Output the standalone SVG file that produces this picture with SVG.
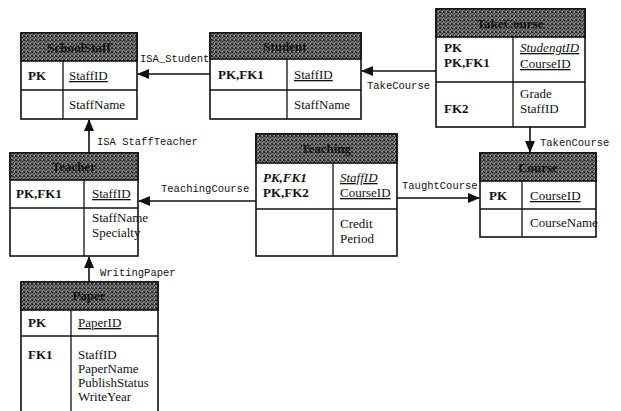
<svg xmlns="http://www.w3.org/2000/svg" width="621" height="411" viewBox="0 0 621 411">
<style>
.box{fill:#fff;stroke:#111;stroke-width:1.6}
.ln{stroke:#111;stroke-width:1.3;fill:none}
.hd{fill:url(#noise);stroke:#111;stroke-width:1.6}
.ht{font-family:"Liberation Serif",serif;font-size:13px;font-weight:bold;fill:#111;text-anchor:middle}
.t{font-family:"Liberation Serif",serif;font-size:13px;fill:#111}
.k{font-family:"Liberation Serif",serif;font-size:13px;font-weight:bold;fill:#111}
.u{text-decoration:underline}
.i{font-style:italic}
.lbl{font-family:"Liberation Mono",monospace;font-size:10.5px;fill:#111}
.c{stroke:#111;stroke-width:1.6;fill:none;marker-end:url(#ah)}
</style>
<defs>
<pattern id="noise" width="4" height="4" patternUnits="userSpaceOnUse">
<rect width="4" height="4" fill="#7a7a7a"/>
<rect x="0" y="0" width="1" height="1" fill="#1a1a1a"/>
<rect x="2" y="1" width="1" height="1" fill="#1a1a1a"/>
<rect x="1" y="2" width="1" height="1" fill="#2a2a2a"/>
<rect x="3" y="3" width="1" height="1" fill="#1a1a1a"/>
<rect x="3" y="0" width="1" height="1" fill="#333"/>
<rect x="0" y="3" width="1" height="1" fill="#3a3a3a"/>
<rect x="1" y="0" width="1" height="1" fill="#555"/>
<rect x="2" y="3" width="1" height="1" fill="#aaa"/>
</pattern>
<marker id="ah" markerWidth="12" markerHeight="10" refX="11" refY="5" orient="auto" markerUnits="userSpaceOnUse">
<path d="M0,0 L12,5 L0,10 Z" fill="#111"/>
</marker>
</defs>

<g id="connectors">
<line class="c" x1="210" y1="74" x2="138" y2="74"/>
<line class="c" x1="436" y1="71" x2="362" y2="71"/>
<line class="c" x1="530" y1="127" x2="530" y2="152"/>
<line class="c" x1="397" y1="198" x2="479" y2="198"/>
<line class="c" x1="256" y1="201" x2="139" y2="201"/>
<line class="c" x1="89" y1="153" x2="89" y2="120"/>
<line class="c" x1="89" y1="282" x2="89" y2="257"/>
<text class="lbl" x="140" y="62">ISA_Student</text>
<text class="lbl" x="367" y="89">TakeCourse</text>
<text class="lbl" x="540" y="146">TakenCourse</text>
<text class="lbl" x="402" y="189">TaughtCourse</text>
<text class="lbl" x="161" y="192">TeachingCourse</text>
<text class="lbl" x="97" y="145">ISA StaffTeacher</text>
<text class="lbl" x="100" y="276">WritingPaper</text>
</g>

<g id="SchoolStaff">
<rect class="box" x="21" y="33" width="116" height="86"/>
<rect class="hd" x="21" y="33" width="116" height="28"/>
<line class="ln" x1="21" y1="90" x2="137" y2="90"/>
<line class="ln" x1="63" y1="61" x2="63" y2="119"/>
<text class="ht" x="79" y="52">SchoolStaff</text>
<text class="k" x="28" y="80">PK</text>
<text class="t u" x="69" y="80">StaffID</text>
<text class="t" x="69" y="109">StaffName</text>
</g>

<g id="Student">
<rect class="box" x="210" y="33" width="151" height="86"/>
<rect class="hd" x="210" y="33" width="151" height="26"/>
<line class="ln" x1="210" y1="90" x2="361" y2="90"/>
<line class="ln" x1="287" y1="59" x2="287" y2="119"/>
<text class="ht" x="285" y="51">Student</text>
<text class="k" x="218" y="79">PK,FK1</text>
<text class="t u" x="294" y="79">StaffID</text>
<text class="t" x="294" y="109">StaffName</text>
</g>

<g id="TakeCourse">
<rect class="box" x="436" y="9" width="149" height="118"/>
<rect class="hd" x="436" y="9" width="149" height="28"/>
<line class="ln" x1="436" y1="82" x2="585" y2="82"/>
<line class="ln" x1="513" y1="37" x2="513" y2="127"/>
<text class="ht" x="510" y="28">TakeCourse</text>
<text class="k" x="444" y="52">PK</text>
<text class="k" x="444" y="67">PK,FK1</text>
<text class="t u i" x="520" y="52">StudengtID</text>
<text class="t u" x="520" y="68">CourseID</text>
<text class="t" x="520" y="98">Grade</text>
<text class="k" x="444" y="113">FK2</text>
<text class="t" x="520" y="113">StaffID</text>
</g>

<g id="Course">
<rect class="box" x="480" y="153" width="116" height="84"/>
<rect class="hd" x="480" y="153" width="116" height="28"/>
<line class="ln" x1="480" y1="209" x2="596" y2="209"/>
<line class="ln" x1="522" y1="181" x2="522" y2="237"/>
<text class="ht" x="538" y="172">Course</text>
<text class="k" x="489" y="200">PK</text>
<text class="t u" x="530" y="200">CourseID</text>
<text class="t" x="530" y="227">CourseName</text>
</g>

<g id="Teaching">
<rect class="box" x="256" y="134" width="141" height="122"/>
<rect class="hd" x="256" y="134" width="141" height="29"/>
<line class="ln" x1="256" y1="209" x2="397" y2="209"/>
<line class="ln" x1="333" y1="163" x2="333" y2="256"/>
<text class="ht" x="326" y="153">Teaching</text>
<text class="k i" x="263" y="182">PK,FK1</text>
<text class="k" x="263" y="197">PK,FK2</text>
<text class="t u i" x="340" y="182">StaffID</text>
<text class="t u" x="340" y="197">CourseID</text>
<text class="t" x="340" y="228">Credit</text>
<text class="t" x="340" y="243">Period</text>
</g>

<g id="Teacher">
<rect class="box" x="10" y="153" width="128" height="103"/>
<rect class="hd" x="10" y="153" width="128" height="27"/>
<line class="ln" x1="10" y1="208" x2="138" y2="208"/>
<line class="ln" x1="84" y1="180" x2="84" y2="256"/>
<text class="ht" x="74" y="171">Teacher</text>
<text class="k" x="16" y="198">PK,FK1</text>
<text class="t u" x="92" y="198">StaffID</text>
<text class="t" x="92" y="222">StaffName</text>
<text class="t" x="92" y="237">Specialty</text>
</g>

<g id="Paper">
<path class="box" d="M21,412 L21,282 L158,282 L158,412"/>
<rect class="hd" x="21" y="282" width="137" height="28"/>
<line class="ln" x1="21" y1="336" x2="158" y2="336"/>
<line class="ln" x1="71" y1="310" x2="71" y2="412"/>
<text class="ht" x="89" y="300">Paper</text>
<text class="k" x="28" y="327">PK</text>
<text class="t u" x="78" y="327">PaperID</text>
<text class="k" x="28" y="359">FK1</text>
<text class="t" x="78" y="359">StaffID</text>
<text class="t" x="78" y="373">PaperName</text>
<text class="t" x="78" y="387">PublishStatus</text>
<text class="t" x="78" y="401">WriteYear</text>
</g>
</svg>
